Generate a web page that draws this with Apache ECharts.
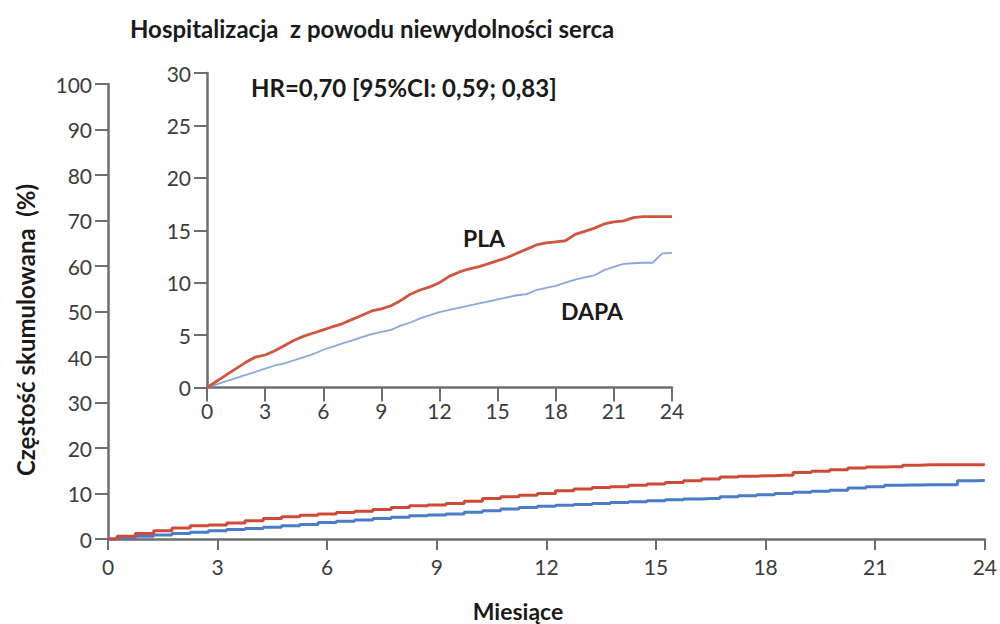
<!DOCTYPE html>
<html><head><meta charset="utf-8">
<script src="https://cdn.jsdelivr.net/npm/echarts@6/dist/echarts.min.js"></script>
<style>html,body{margin:0;padding:0;background:#fff}#c{width:1000px;height:624px}</style>
</head><body><div id="c"></div>
<script>
const months = [0,0.5,1,1.5,2,2.5,3,3.5,4,4.5,5,5.5,6,6.5,7,7.5,8,8.5,9,9.5,10,10.5,11,11.5,12,12.5,13,13.5,14,14.5,15,15.5,16,16.5,17,17.5,18,18.5,19,19.5,20,20.5,21,21.5,22,22.5,23,23.5,24];
const pla  = [0,0.6,1.2,1.8,2.4,2.9,3.1,3.5,4.0,4.5,4.9,5.2,5.5,5.8,6.1,6.5,6.9,7.3,7.5,7.8,8.3,8.9,9.3,9.6,10.0,10.6,11.0,11.3,11.5,11.8,12.1,12.4,12.8,13.2,13.6,13.8,13.9,14.0,14.6,14.9,15.2,15.6,15.8,15.9,16.2,16.3,16.3,16.3,16.3];
const dapa = [0,0.3,0.6,0.9,1.2,1.5,1.8,2.1,2.3,2.6,2.9,3.2,3.6,3.9,4.2,4.5,4.8,5.1,5.3,5.5,5.9,6.2,6.6,6.9,7.2,7.4,7.6,7.8,8.0,8.2,8.4,8.6,8.8,8.9,9.3,9.5,9.7,10.0,10.3,10.5,10.7,11.2,11.5,11.8,11.85,11.9,11.9,12.8,12.85];
const seriesNames = ['PLA','DAPA'];
const titleText = 'Hospitalizacja  z powodu niewydolności serca';
const hrText = 'HR=0,70 [95%CI: 0,59; 0,83]';
const xName = 'Miesiące';
const yName = 'Częstość skumulowana  (%)';
const mainY = {min:0, max:100, interval:10};
const insetY = {min:0, max:30, interval:5};
const xRange = {min:0, max:24, interval:3};

const pairs = arr => months.map((m,i)=>[m, arr[i]]);
const FONT = 'Lato, "Open Sans", sans-serif';
const axisCol = '#6e6e6e';
const labelCol = '#3c3c3c';

function xAxis(gridIndex, tickLen, margin){
  return {type:'value', gridIndex, min:xRange.min, max:xRange.max, interval:xRange.interval,
    axisLine:{show:true, onZero:false, lineStyle:{color:axisCol, width:2.5}},
    axisTick:{show:true, length:tickLen, lineStyle:{color:axisCol, width:2}},
    axisLabel:{color:labelCol, fontFamily:FONT, fontSize:21, margin},
    splitLine:{show:false}};
}
function yAxis(gridIndex, r, tickLen, margin){
  return {type:'value', gridIndex, min:r.min, max:r.max, interval:r.interval,
    axisLine:{show:true, onZero:false, lineStyle:{color:axisCol, width:2.5}},
    axisTick:{show:true, length:tickLen, lineStyle:{color:axisCol, width:2}},
    axisLabel:{color:labelCol, fontFamily:FONT, fontSize:21, margin},
    splitLine:{show:false}};
}

const chart = echarts.init(document.getElementById('c'), null, {renderer:'svg'});
chart.setOption({
  animation:false,
  backgroundColor:'#fff',
  grid:[
    {left:108, top:84, width:878, height:455},
    {left:207, top:73, width:465, height:314.5}
  ],
  xAxis:[xAxis(0, 11, 17), xAxis(1, 14, 12)],
  yAxis:[yAxis(0, mainY, 13, 16), yAxis(1, insetY, 13, 16)],
  series:[
    {name:seriesNames[1], type:'line', xAxisIndex:0, yAxisIndex:0, step:'middle', showSymbol:false,
     data:pairs(dapa), lineStyle:{color:'#4a7cc9', width:3}, itemStyle:{color:'#4a7cc9'}},
    {name:seriesNames[0], type:'line', xAxisIndex:0, yAxisIndex:0, step:'middle', showSymbol:false,
     data:pairs(pla), lineStyle:{color:'#cf4a36', width:3}, itemStyle:{color:'#cf4a36'}},
    {name:seriesNames[1], type:'line', xAxisIndex:1, yAxisIndex:1, showSymbol:false,
     data:pairs(dapa), lineStyle:{color:'#89a7e0', width:1.8}, itemStyle:{color:'#89a7e0'}},
    {name:seriesNames[0], type:'line', xAxisIndex:1, yAxisIndex:1, showSymbol:false,
     data:pairs(pla), lineStyle:{color:'#d0563f', width:2.8}, itemStyle:{color:'#d0563f'}}
  ],
  graphic:[
    {type:'text', x:130, y:28, style:{text:titleText, font:'bold 24px '+FONT, fill:'#1a1a1a', textAlign:'left', textVerticalAlign:'middle'}},
    {type:'text', x:251, y:87, style:{text:hrText, font:'bold 24px '+FONT, fill:'#1a1a1a', textAlign:'left', textVerticalAlign:'middle'}},
    {type:'text', x:484, y:238, style:{text:seriesNames[0], font:'bold 23px '+FONT, fill:'#1a1a1a', textAlign:'center', textVerticalAlign:'middle'}},
    {type:'text', x:592, y:311, style:{text:seriesNames[1], font:'bold 23px '+FONT, fill:'#1a1a1a', textAlign:'center', textVerticalAlign:'middle'}},
    {type:'text', x:518, y:611, style:{text:xName, font:'bold 23px '+FONT, fill:'#1a1a1a', textAlign:'center', textVerticalAlign:'middle'}},
    {type:'text', x:25, y:330, rotation:Math.PI/2, style:{text:yName, font:'bold 24px '+FONT, fill:'#1a1a1a', textAlign:'center', textVerticalAlign:'middle'}}
  ]
});
</script></body></html>
